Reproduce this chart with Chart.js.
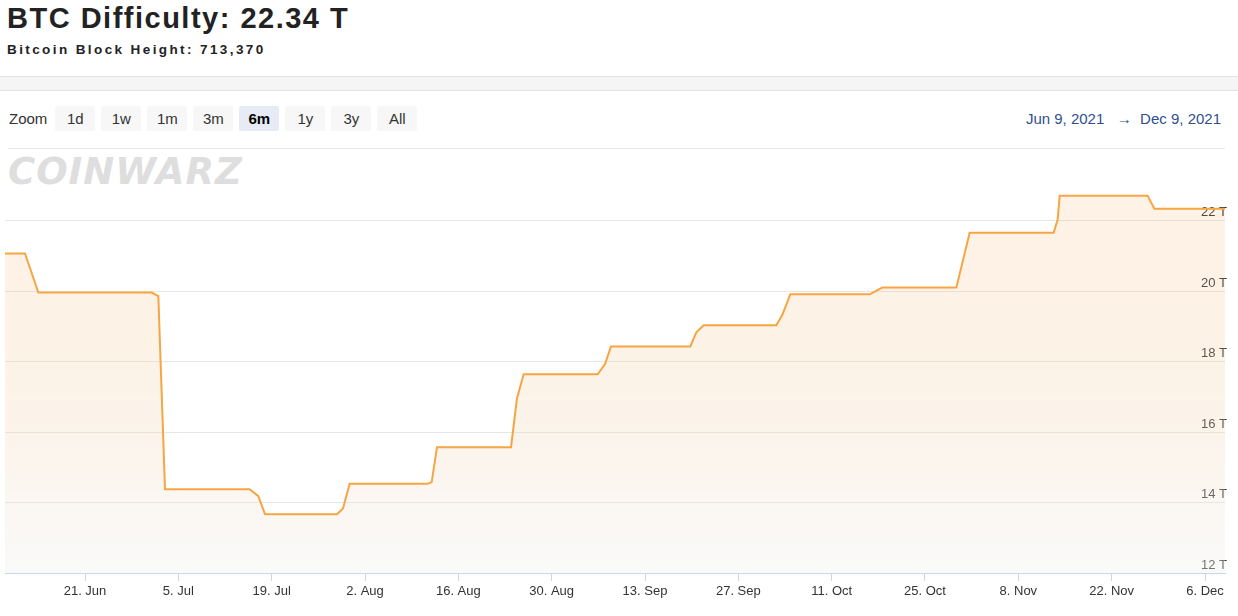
<!DOCTYPE html>
<html><head><meta charset="utf-8">
<script src="https://cdn.jsdelivr.net/npm/chart.js@4/dist/chart.umd.min.js"></script>
<style>
body{margin:0;background:#fff;font-family:"Liberation Sans",Arial,sans-serif;width:1238px;height:616px;overflow:hidden;position:relative}
h1{position:absolute;left:7px;top:2px;margin:0;font-size:29px;font-weight:bold;color:#222;letter-spacing:1.5px}
.sub{position:absolute;left:7px;top:42px;font-size:13.5px;font-weight:bold;color:#222;letter-spacing:2.4px}
.band{position:absolute;left:0;top:76px;width:1238px;height:13px;background:#f5f5f5;border-top:1px solid #e3e3e3;border-bottom:1px solid #e3e3e3}
.zoom{position:absolute;left:9px;top:106px;font-size:15px;color:#333;display:flex;align-items:center}
.zoom span{margin-right:8px}
.zoom b{font-weight:normal;background:#f7f7f7;padding:4px 0;width:40px;text-align:center;margin-right:6px;border-radius:2px}
.zoom b.on{background:#e6ebf5;font-weight:bold;color:#000}
.range{position:absolute;right:17px;top:110px;font-size:15px;color:#2f4f8f}
.sep{position:absolute;left:8px;top:148px;width:1217px;height:1px;background:#e6e6e6}
.wm{position:absolute;left:8px;top:150px;font-size:37px;font-weight:900;color:#dedede;font-family:"DejaVu Sans";letter-spacing:1px;font-style:italic}
#wrap{position:absolute;left:0;top:145px;width:1238px;height:460px}
</style></head><body>
<h1>BTC Difficulty: 22.34 T</h1>
<div class="sub">Bitcoin Block Height: 713,370</div>
<div class="band"></div>
<div class="zoom"><span>Zoom</span><b>1d</b><b>1w</b><b>1m</b><b>3m</b><b class="on">6m</b><b>1y</b><b>3y</b><b>All</b></div>
<div class="range">Jun 9, 2021 &nbsp; → &nbsp;Dec 9, 2021</div>
<div class="sep"></div>
<div class="wm">COINWARZ</div>
<div id="wrap"><canvas id="c"></canvas></div>
<script>
// days since Jun 9 2021, difficulty in T
var days = [0, 3, 5, 22, 23, 24, 36.7, 38, 39, 49.8, 50.7, 51.7, 63.4, 64, 64.8, 75.9, 76.8, 77.8, 88.9, 90, 90.9, 102.8, 103.7, 104.8, 115.7, 116.6, 117.8, 129.7, 131.6, 142.7, 144.7, 157.3, 157.9, 158.2, 171.4, 172.4, 183];
var difficulty = [21.07, 21.07, 19.96, 19.96, 19.86, 14.38, 14.38, 14.18, 13.67, 13.67, 13.83, 14.53, 14.53, 14.58, 15.57, 15.57, 16.96, 17.64, 17.64, 17.93, 18.43, 18.43, 18.83, 19.03, 19.03, 19.33, 19.91, 19.91, 20.1, 20.1, 21.66, 21.66, 22.03, 22.71, 22.71, 22.34, 22.34];
var tickDays = [12, 26, 40, 54, 68, 82, 96, 110, 124, 138, 152, 166, 180];
var tickLabels = ['21. Jun', '5. Jul', '19. Jul', '2. Aug', '16. Aug', '30. Aug', '13. Sep', '27. Sep', '11. Oct', '25. Oct', '8. Nov', '22. Nov', '6. Dec'];
var yTicks = [12, 14, 16, 18, 20, 22];

var ctx = document.getElementById('c').getContext('2d');
var grad = ctx.createLinearGradient(0, 0, 0, 428);
grad.addColorStop(0, 'rgba(247,165,67,0.12)');
grad.addColorStop(1, 'rgba(240,240,240,0.35)');
new Chart(ctx, {
  type: 'line',
  data: {datasets: [{
    data: days.map(function(d, i){ return {x: d, y: difficulty[i]}; }),
    borderColor: '#f7a543', borderWidth: 2, pointRadius: 0, tension: 0,
    fill: 'start', backgroundColor: grad
  }]},
  options: {
    responsive: true, maintainAspectRatio: false, animation: false,
    layout: {padding: {left: 5, right: 13, top: 0, bottom: 0}},
    plugins: {legend: {display: false}, tooltip: {enabled: false}},
    scales: {
      x: {type: 'linear', min: 0, max: 183,
        afterBuildTicks: function(s){ s.ticks = tickDays.map(function(v){ return {value: v}; }); },
        afterFit: function(s){ s.height = 32; },
        grid: {drawOnChartArea: false, drawTicks: true, tickLength: 8, color: '#ccd6eb'},
        border: {color: '#ccd6eb'},
        ticks: {autoSkip: false, maxRotation: 0, color: '#333', font: {family: 'Liberation Sans', size: 13},
          callback: function(v){ var i = tickDays.indexOf(v); return i < 0 ? '' : tickLabels[i]; }}
      },
      y: {position: 'right', min: 12, max: 23.87,
        afterBuildTicks: function(s){ s.ticks = yTicks.map(function(v){ return {value: v}; }); },
        afterFit: function(s){ s.width = 0; },
        grid: {color: '#e6e6e6', drawTicks: false},
        border: {display: false},
        ticks: {mirror: true, padding: 2, labelOffset: -8, color: '#333', font: {family: 'Liberation Sans', size: 13},
          callback: function(v){ return v + ' T'; }}
      }
    }
  }
});
</script>
</body></html>
